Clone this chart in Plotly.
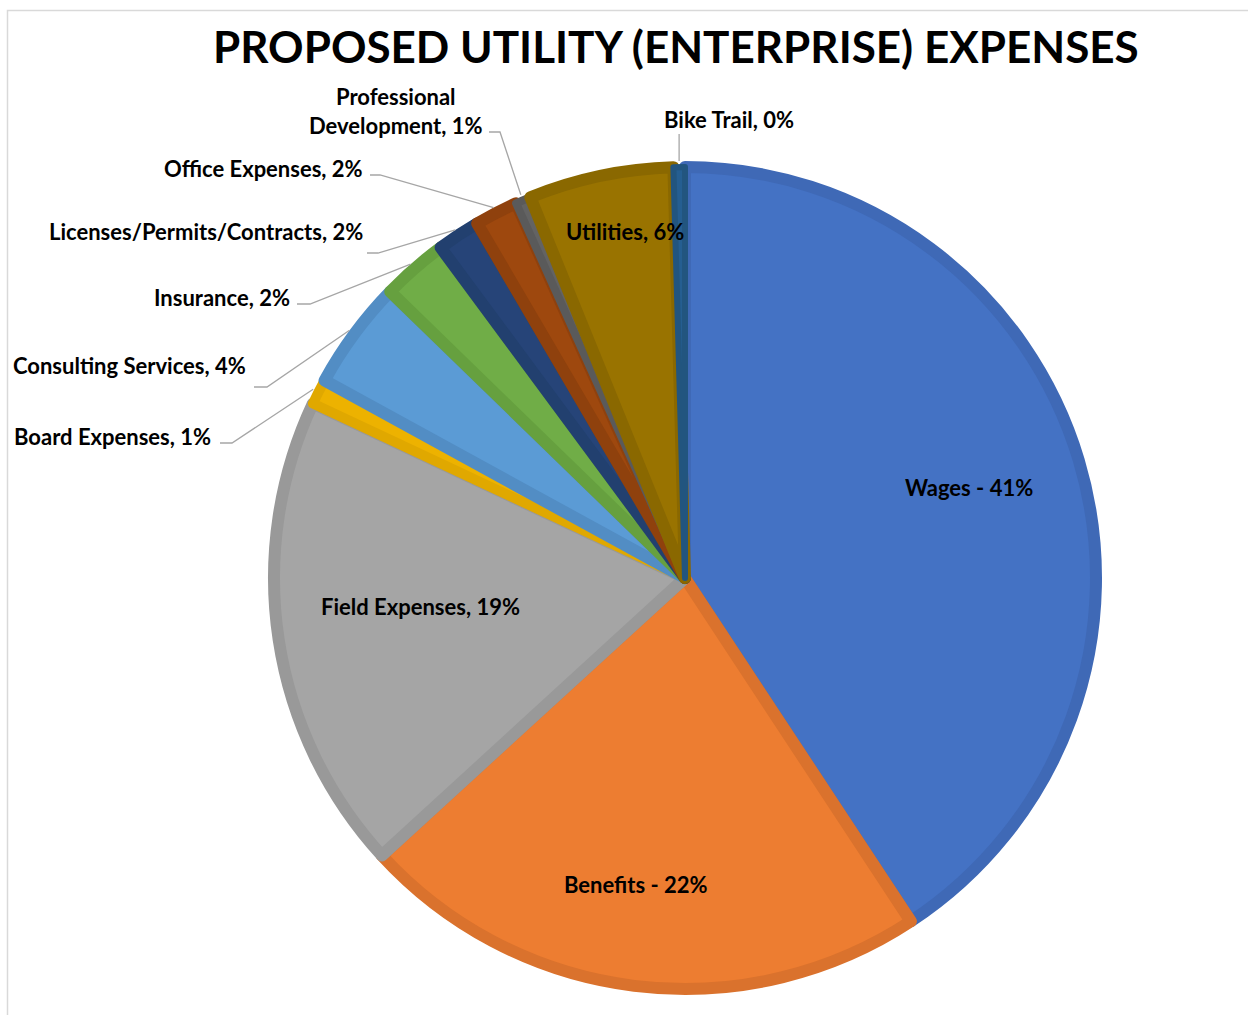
import math
import plotly.graph_objects as go

# ---------------- data ----------------
categories = ["Wages", "Benefits", "Field Expenses", "Board Expenses", "Consulting Services",
              "Insurance", "Licenses/Permits/Contracts", "Office Expenses",
              "Professional Development", "Utilities", "Bike Trail"]
values = [40.8, 22.5, 18.8, 1.0, 4.3, 2.6, 1.7, 1.7, 0.6, 5.7, 0.45]
pct_labels = [41, 22, 19, 1, 4, 2, 2, 2, 1, 6, 0]

# ---------------- styles ----------------
fill_colors = ["#4472C4", "#ED7D31", "#A5A5A5", "#EDB200", "#5B9BD5", "#70AD47",
               "#264478", "#9E480E", "#636363", "#997300", "#255E91"]
edge_colors = ["#3F69B6", "#DA722D", "#999999", "#E0A800", "#528DC4", "#66A03F",
               "#22406F", "#8F410D", "#5A5A5A", "#8A6800", "#22557F"]
edge_widths = [12, 12, 12, 10, 12, 12, 12, 12, 8, 12, 6]

W, H = 1248, 1015
CX, CY = 685, 578
R_FILL = 411
R_EDGE = R_FILL + 6

FONT = "Lato, 'Open Sans', sans-serif"
LABEL_SIZE = 22
LEADER = "#A6A6A6"


def px(x):
    return x / W


def py(y):
    return 1 - y / H


fig = go.Figure()
fig.add_trace(go.Pie(
    labels=categories, values=values, sort=False, direction="clockwise", rotation=0,
    textinfo="none", hoverinfo="label+percent", showlegend=False,
    marker=dict(colors=fill_colors, line=dict(color=edge_colors, width=edge_widths)),
    domain=dict(x=[px(CX - R_FILL), px(CX + R_FILL)], y=[py(CY + R_FILL), py(CY - R_FILL)]),
))

# mid-angle anchors on the rim computed from the data
total = sum(values)
anchors = {}
cum = 0.0
for c, v in zip(categories, values):
    mid = (cum + v / 2) / total * 2 * math.pi
    anchors[c] = (CX + R_EDGE * math.sin(mid), CY - R_EDGE * math.cos(mid))
    cum += v

annotations = []
shapes = []


def label_text(i, sep=", "):
    return f"<b>{categories[i]}{sep}{pct_labels[i]}%</b>"


# inside labels
inside = {
    "Wages": (969, 487, " - "),
    "Benefits": (636, 884, " - "),
    "Field Expenses": (420, 606, ", "),
    "Utilities": (625, 231, ", "),
}
for name, (x, y, sep) in inside.items():
    i = categories.index(name)
    annotations.append(dict(x=px(x), y=py(y), xref="paper", yref="paper", showarrow=False,
                            text=label_text(i, sep), xanchor="center", yanchor="middle",
                            font=dict(family=FONT, size=LABEL_SIZE, color="#000000")))

# outside labels: (text right x, text y, elbow start x, elbow end x, elbow y)
outside = {
    "Board Expenses": (213, 437, 220, 232, 443),
    "Consulting Services": (248, 365, 254, 267, 387),
    "Insurance": (292, 298, 297, 310, 304),
    "Licenses/Permits/Contracts": (365, 232, 367, 378, 253),
    "Office Expenses": (365, 168, 370, 380, 175),
}
for name, (tx, ty, ex0, ex1, ey) in outside.items():
    i = categories.index(name)
    annotations.append(dict(x=px(tx), y=py(ty), xref="paper", yref="paper", showarrow=False,
                            text=label_text(i), xanchor="right", yanchor="middle",
                            font=dict(family=FONT, size=LABEL_SIZE, color="#000000")))
    ax, ay = anchors[name]
    shapes.append(dict(type="path", xref="paper", yref="paper",
                       path=f"M {px(ex0)},{py(ey)} L {px(ex1)},{py(ey)} L {px(ax)},{py(ay)}",
                       line=dict(color=LEADER, width=1.3)))

# Professional Development (two lines)
i = categories.index("Professional Development")
annotations.append(dict(x=px(396), y=py(111), xref="paper", yref="paper", showarrow=False,
                        text=f"<b>Professional<br>Development, {pct_labels[i]}%</b>",
                        xanchor="center", yanchor="middle", align="center",
                        font=dict(family=FONT, size=LABEL_SIZE, color="#000000")))
ax, ay = anchors["Professional Development"]
shapes.append(dict(type="path", xref="paper", yref="paper",
                   path=f"M {px(489)},{py(132)} L {px(500)},{py(132)} L {px(ax)},{py(ay)}",
                   line=dict(color=LEADER, width=1.3)))

# Bike Trail
i = categories.index("Bike Trail")
annotations.append(dict(x=px(729), y=py(119), xref="paper", yref="paper", showarrow=False,
                        text=label_text(i), xanchor="center", yanchor="middle",
                        font=dict(family=FONT, size=LABEL_SIZE, color="#000000")))
ax, ay = anchors["Bike Trail"]
shapes.append(dict(type="path", xref="paper", yref="paper",
                   path=f"M {px(ax)},{py(134)} L {px(ax)},{py(ay)}",
                   line=dict(color=LEADER, width=1.3)))

# title
annotations.append(dict(x=px(676), y=py(46), xref="paper", yref="paper", showarrow=False,
                        text="<b>PROPOSED UTILITY (ENTERPRISE) EXPENSES</b>",
                        xanchor="center", yanchor="middle",
                        font=dict(family=FONT, size=44, color="#000000")))

# chart frame (left and top edges visible)
shapes.append(dict(type="path", xref="paper", yref="paper",
                   path=f"M {px(7.5)},-0.05 L {px(7.5)},{py(10.5)} L 1.05,{py(10.5)}",
                   line=dict(color="#D9D9D9", width=1.5)))

fig.update_layout(
    width=W, height=H, autosize=False,
    margin=dict(l=0, r=0, t=0, b=0),
    paper_bgcolor="#FFFFFF", plot_bgcolor="#FFFFFF",
    annotations=annotations, shapes=shapes,
    font=dict(family=FONT),
)

fig.write_html("out.html")
